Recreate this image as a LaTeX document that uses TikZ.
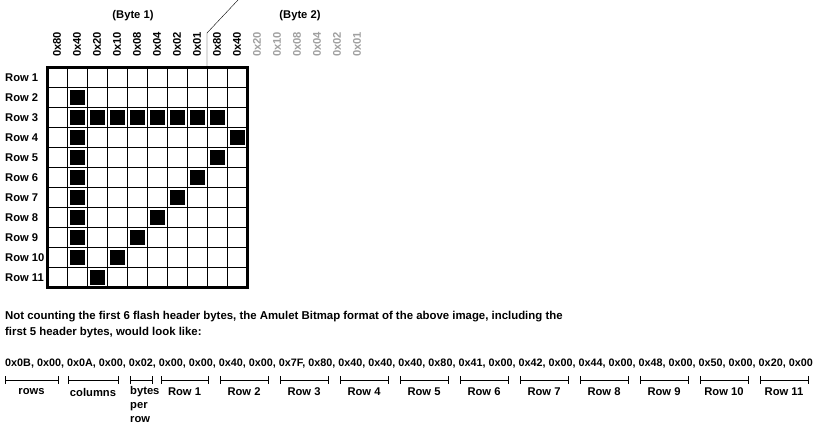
\documentclass[tikz,border=0pt]{standalone}
\usepackage{fontspec}
\setmainfont{Liberation Sans}
\usetikzlibrary{calc}
\definecolor{dimbit}{RGB}{160,160,160}
\tikzset{
  lbl/.style={font=\bfseries\fontsize{11.2}{16}\selectfont, inner sep=0pt},
  bitlbl/.style={lbl, rotate=90, anchor=west},
  pixel/.style={fill=black},
  span/.style={line width=0.8pt}
}
\begin{document}
\begin{tikzpicture}[x=1pt,y=-1pt]
  \useasboundingbox (0,0) rectangle (822,434);
  \node[lbl] (b1) at (133,16) {(Byte 1)};
  \node[lbl] (b2) at (300,16) {(Byte 2)};
  % bit values above the columns
  \foreach \v [count=\i from 0] in {80,40,20,10,08,04,02,01,80,40}
    \node[bitlbl] (c\i) at (57+20*\i,57) {0x\v};
  \foreach \v [count=\i from 10] in {20,10,08,04,02,01}
    \node[bitlbl, text=dimbit] (c\i) at (57+20*\i,57) {0x\v};
  % byte boundary
  \coordinate (cut) at (207,67);
  \coordinate (bend) at (207,33);
  \coordinate (tip) at (238,0);
  \draw (cut) -- (bend) -- (tip);
  % rows
  \foreach \r in {1,...,11}
    \node[lbl, anchor=west] (r\r) at (5,58+20*\r) {Row \r};
  % the grid
  \foreach \i in {1,...,9}
    \draw[line width=1pt] (47+20*\i,67) -- (47+20*\i,287);
  \foreach \j in {1,...,10}
    \draw[line width=1pt] (47,67+20*\j) -- (247,67+20*\j);
  \draw[line width=3pt] (47,67) rectangle (247,287);
  % set pixels
  \foreach \c/\r in {1/2, 1/3,2/3,3/3,4/3,5/3,6/3,7/3,8/3, 1/4,9/4, 1/5,8/5,
                     1/6,7/6, 1/7,6/7, 1/8,5/8, 1/9,4/9, 1/10,3/10, 2/11}
    \fill[pixel] (49.8+20*\c,49.8+20*\r) rectangle ++(15.4,15.4);
  % the bytes
  \node[lbl, anchor=north west, align=left, font=\bfseries\fontsize{11.4}{16}\selectfont] (note) at (5,311)
    {Not counting the first 6 flash header bytes, the Amulet Bitmap format of the above image, including the\\
     first 5 header bytes, would look like:};
  \node[lbl, anchor=west, font=\bfseries\fontsize{10.8}{16}\selectfont] (hex) at (5,364)
    {0x0B, 0x00, 0x0A, 0x00, 0x02, 0x00, 0x00, 0x40, 0x00, 0x7F, 0x80, 0x40, 0x40, 0x40, 0x80, 0x41, 0x00, 0x42, 0x00, 0x44, 0x00, 0x48, 0x00, 0x50, 0x00, 0x20, 0x00};
  \foreach \a/\b/\t [count=\k] in {5/58/rows, 68/118/columns, 161/208/Row 1,
      220/268/Row 2, 280/328/Row 3, 340/388/Row 4, 400/448/Row 5, 460/508/Row 6,
      520/568/Row 7, 580/628/Row 8, 640/688/Row 9, 700/748/Row 10, 760/808/Row 11}{
    \coordinate (s\k) at (\a,380);
    \coordinate (e\k) at (\b,380);
    \draw[span] (s\k) ++(0,-4) -- ++(0,8) (s\k) -- (e\k) ++(0,-4) -- ++(0,8);
    \node[lbl] (w\k) at ($(s\k)!0.5!(e\k)+(0,12)$) {\t};
  }
  \coordinate (bs) at (130,380);
  \coordinate (be) at (152,380);
  \draw[span] (bs) ++(0,-4) -- ++(0,8) (bs) -- (be) ++(0,-4) -- ++(0,8);
  \node[lbl, anchor=north west, align=left, font=\bfseries\fontsize{11.2}{14}\selectfont] (bpr) at (130,386) {bytes\\per\\row};
\end{tikzpicture}
\end{document}
